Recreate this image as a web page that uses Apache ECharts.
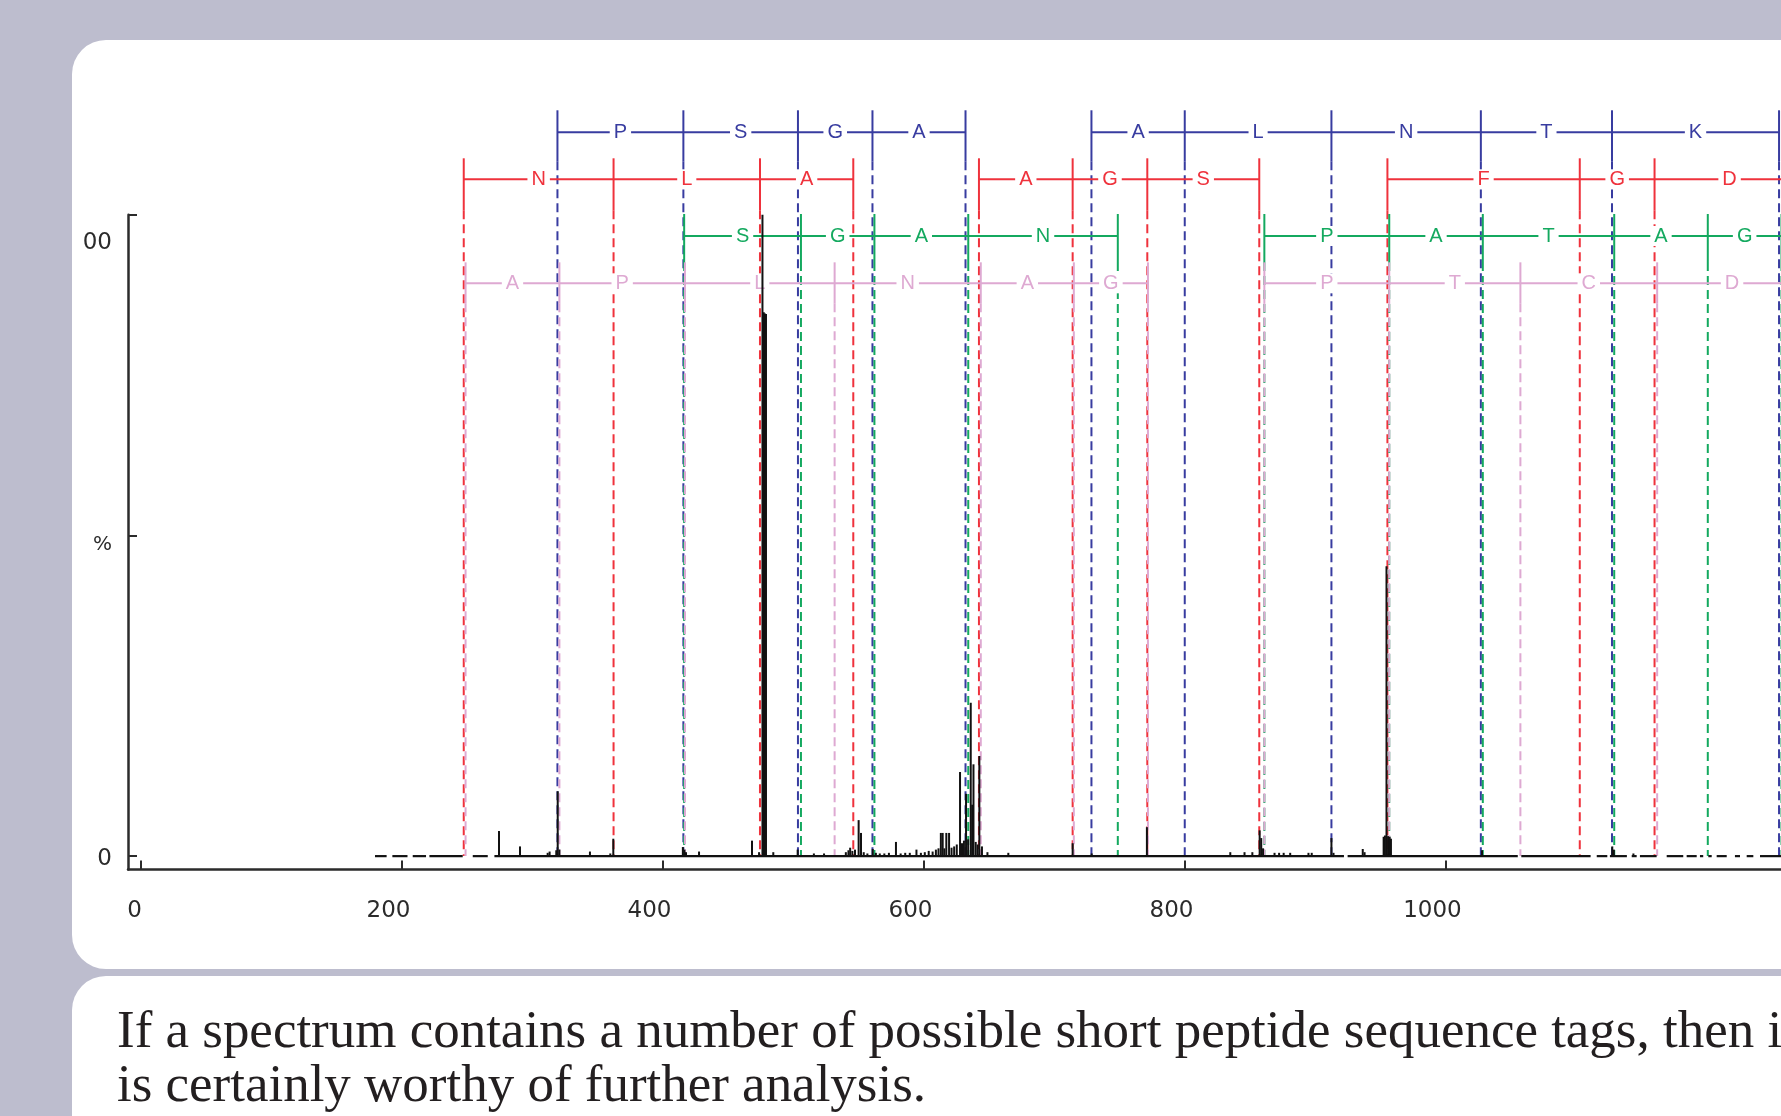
<!DOCTYPE html>
<html>
<head>
<meta charset="utf-8">
<script src="https://cdn.jsdelivr.net/npm/echarts@6/dist/echarts.min.js"></script>
<style>
html,body{margin:0;padding:0;width:1781px;height:1116px;overflow:hidden;background:#bdbdce;}
.panel{position:absolute;left:72px;width:1800px;background:#fff;border-radius:34px;}
#top{top:40px;height:929px;}
#bottom{top:976px;height:300px;}
#caption{position:absolute;left:117px;top:1002px;font-family:"Liberation Serif",serif;font-size:51px;line-height:54px;color:#231f20;white-space:nowrap;}
#chart{position:absolute;left:0;top:0;width:1781px;height:1116px;}
</style>
</head>
<body>
<div class="panel" id="top"></div>
<div class="panel" id="bottom"></div>
<div id="caption"><span id="l1">If a spectrum contains a number of possible short peptide sequence tags, then it</span><br><span id="l2">is certainly worthy of further analysis.</span></div>
<div id="chart"></div>
<script>
// spectrum sticks  [m/z, % of base peak]
var peaks = [
  [274.7,3.9],[290.8,1.5],[312.0,0.5],[313.5,0.7],[318.6,0.9],[319.7,10.1],[321.0,1.0],
  [344.4,0.7],[360.0,0.4],[362.3,2.7],[415.6,1.4],[416.8,1.0],[418.0,0.6],[428.0,0.7],
  [468.6,2.4],[474.0,0.6],[476.6,100],[477.6,84.8],[478.5,84.6],[479.3,84.5],[484.9,0.6],
  [503.6,1.0],[516.0,0.4],[523.8,0.4],[540.5,0.6],[542.5,0.9],[543.8,1.3],[545.5,0.8],
  [547.5,1.0],[550.3,5.6],[552.1,3.6],[554.2,0.6],[557.0,0.4],[561.1,1.1],[563.5,0.5],
  [566.5,0.4],[570.0,0.4],[573.5,0.5],[578.9,2.2],[582.5,0.4],[586.0,0.5],[589.5,0.5],
  [594.6,1.0],[598.0,0.5],[601.0,0.6],[604.0,0.8],[607.0,0.7],[609.5,1.0],[611.5,1.2],
  [613.3,3.6],[614.7,3.6],[616.0,1.2],[617.5,3.6],[619.6,3.6],[621.5,1.3],[623.5,1.5],
  [625.5,1.8],[628.0,13.1],[629.5,2.0],[631.0,2.4],[632.6,9.7],[634.2,2.6],[636.2,23.9],
  [637.3,8.0],[638.3,14.3],[640.0,2.2],[641.5,1.8],[642.8,15.6],[644.8,1.5],[649.0,0.6],
  [665.0,0.5],[714.3,2.0],[728.9,0.4],[771.2,4.5],[835.1,0.6],[846.0,0.6],[852.0,0.6],
  [857.6,4.0],[858.8,2.8],[860.2,1.2],[869.0,0.5],[872.5,0.5],[876.0,0.5],[881.0,0.5],
  [895.0,0.5],[897.5,0.5],[912.6,2.8],[914.2,0.5],[936.6,1.1],[938.0,0.6],[952.6,3.0],
  [953.6,3.2],[954.8,45.2],[956.0,3.1],[957.2,3.0],[958.2,2.7],[1028.0,0.9],[1127.8,1.5],
  [1129.0,1.0],[1144.0,0.4]
];

// stretches where the baseline trace is drawn  [from m/z, to m/z]
var baseline = [
  [179.7,188.6],[193,204.6],[208.6,218.8],[221.4,246.9],[254.6,266.1],[271.2,922.2],
  [925,1055.4],[1058.1,1111.2],[1115.9,1124],[1126,1139],[1142.7,1146.5],[1149,1161.8],
  [1169.5,1182.2],[1184.8,1192.5],[1195,1197.5],[1201.4,1204],[1207.8,1215.5],
  [1221.8,1225.7],[1230.8,1235.9],[1241,1258]
];

// sequence ladders: runs of fragment ion m/z and the residues read between them
var blueIons = [[319.5,416.0,503.8,560.9,632.2],[728.7,800.2,912.6,1027.1,1127.6,1255.6]];
var blueSeq  = [['P','S','G','A'],['A','L','N','T','K']];
var redIons  = [[247.7,362.5,474.7,546.2],[642.5,714.3,771.5,857.3],[955.5,1102.9,1160.2,1275.2]];
var redSeq   = [['N','L','A'],['A','G','S'],['F','G','D']];
var greenIons = [[416.6,506.1,562.4,634.3,748.9],[861.2,956.9,1028.6,1129.3,1201.0,1257.5]];
var greenSeq  = [['S','G','A','N'],['P','A','T','A','G']];
var pinkIons = [[249.1,321.0,417.2,531.9,643.9,715.2,772.0],[861.2,956.9,1057.4,1162.2,1277]];
var pinkSeq  = [['A','P','L','N','A','G'],['P','T','C','D']];

var xTicks = [0,200,400,600,800,1000];
var yTicks = [0,50,100];
var yTickLabels = ['0','%','00'];

// row placement / look of each ladder
var ladders = [
  {ions: blueIons,  seq: blueSeq,  color:'#383ca0', level:112.85, up:22, down:29},
  {ions: redIons,   seq: redSeq,   color:'#ef323c', level:105.52, up:21, down:31},
  {ions: greenIons, seq: greenSeq, color:'#14a95f', level:96.68,  up:22, down:26},
  {ions: pinkIons,  seq: pinkSeq,  color:'#dea9d2', level:89.30,  up:21, down:20}
];

var axisColor = '#2b2b2b';
var tickFont = '"DejaVu Sans", sans-serif';

function ladderSeries(ld){
  return {
    type:'custom',
    coordinateSystem:'cartesian2d',
    clip:false,
    silent:true,
    z:2,
    encode:{x:[0,1], y:2},
    data: ld.ions.map(function(run,k){ return [run[0], run[run.length-1], k]; }),
    renderItem:function(params, api){
      var k = api.value(2);
      var run = ld.ions[k], seq = ld.seq[k];
      var y0 = api.coord([run[0], ld.level])[1];
      var yBase = api.coord([run[0], 0])[1];
      var xs = run.map(function(m){ return api.coord([m, ld.level])[0]; });
      var ch = [];
      ch.push({type:'line', shape:{x1:xs[0], y1:y0, x2:xs[xs.length-1], y2:y0},
               style:{stroke:ld.color, lineWidth:2}});
      xs.forEach(function(x){
        ch.push({type:'line', shape:{x1:x, y1:y0-ld.up, x2:x, y2:y0+ld.down},
                 style:{stroke:ld.color, lineWidth:2}});
        ch.push({type:'line', shape:{x1:x, y1:y0+ld.down, x2:x, y2:yBase},
                 style:{stroke:ld.color, lineWidth:2, lineDash:[9,5]}});
      });
      seq.forEach(function(s,i){
        ch.push({type:'text', x:(xs[i]+xs[i+1])/2, y:y0, z2:5,
                 style:{text:s, fill:ld.color, font:'20px "Liberation Sans", Arial, sans-serif',
                        align:'center', verticalAlign:'middle', backgroundColor:'#fff', padding:[0,4]}});
      });
      return {type:'group', children:ch};
    }
  };
}

var series = ladders.map(ladderSeries);

series.push({
  type:'custom', coordinateSystem:'cartesian2d', silent:true, z:4,
  encode:{x:[0,1]},
  data: baseline,
  renderItem:function(params, api){
    var a = api.coord([api.value(0), 0]);
    var b = api.coord([api.value(1), 0]);
    return {type:'rect', shape:{x:a[0], y:a[1]-1, width:b[0]-a[0], height:2.2}, style:{fill:'#111'}};
  }
});

series.push({
  type:'custom', coordinateSystem:'cartesian2d', silent:true, z:5,
  encode:{x:0, y:1},
  data: peaks,
  renderItem:function(params, api){
    var top = api.coord([api.value(0), api.value(1)]);
    var bot = api.coord([api.value(0), 0]);
    return {type:'rect', shape:{x:top[0]-1, y:top[1], width:2, height:bot[1]-top[1]}, style:{fill:'#111'}};
  }
});

var option = {
  backgroundColor:'transparent',
  animation:false,
  grid:{left:128, right:0, top:214.7, bottom:246.5},
  xAxis:{
    type:'value', min:-9.58, max:1257.1,
    axisLine:{onZero:false, lineStyle:{color:axisColor, width:2.5}},
    axisTick:{inside:true, length:9, customValues:xTicks, lineStyle:{color:axisColor, width:2}},
    axisLabel:{
      customValues:xTicks, margin:30, color:axisColor, fontFamily:tickFont, fontSize:23,
      formatter:function(v){ return v === 0 ? '{z|0}' : '{n|' + v + '}'; },
      rich:{
        z:{fontFamily:tickFont, fontSize:23, color:axisColor, padding:[0,12,0,0]},
        n:{fontFamily:tickFont, fontSize:23, color:axisColor, padding:[0,26,0,0]}
      }
    },
    splitLine:{show:false}
  },
  yAxis:{
    type:'value', min:-2.1, max:100,
    axisLine:{show:true, onZero:false, lineStyle:{color:axisColor, width:2.5}},
    axisTick:{show:true, inside:true, length:9, customValues:yTicks, lineStyle:{color:axisColor, width:2}},
    axisLabel:{
      customValues:yTicks, margin:16, color:axisColor, fontFamily:tickFont, fontSize:23,
      formatter:function(v){
        var i = yTicks.indexOf(v);
        return '{t' + i + '|' + yTickLabels[i] + '}';
      },
      rich:{
        t0:{fontFamily:tickFont, fontSize:23, color:axisColor, padding:[5,0,0,0]},
        t1:{fontFamily:tickFont, fontSize:20, color:axisColor, padding:[18,0,0,0]},
        t2:{fontFamily:tickFont, fontSize:23, color:axisColor, padding:[56,0,0,0]}
      }
    },
    splitLine:{show:false}
  },
  series:series
};

var chart = echarts.init(document.getElementById('chart'));
chart.setOption(option);

// fit caption width to the reference line length
var l2 = document.getElementById('l2');
var w = l2.getBoundingClientRect().width;
var cap = document.getElementById('caption');
cap.style.fontSize = (51 * 809 / w).toFixed(2) + 'px';
</script>
</body>
</html>
